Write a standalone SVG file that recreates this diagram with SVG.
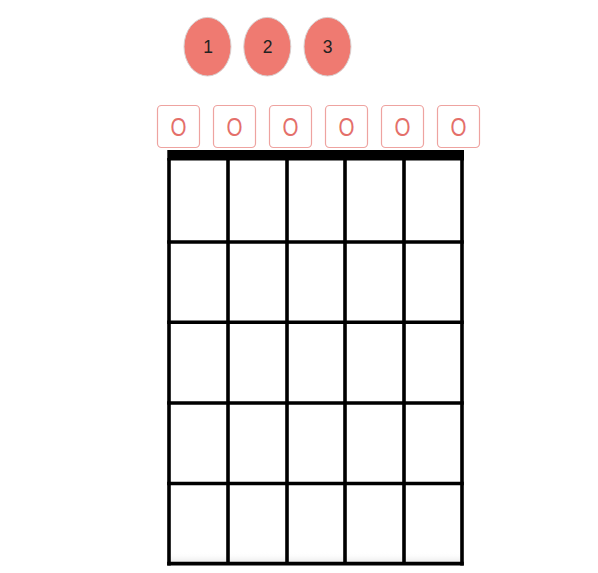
<svg xmlns="http://www.w3.org/2000/svg" width="598" height="573" viewBox="0 0 598 573">
<style>
.finger{fill:#ef7a71;stroke:#d8d0d0;stroke-width:1}
.num{font-family:"Liberation Sans",Arial,sans-serif;font-size:17.5px;fill:#222;text-anchor:middle}
.box{fill:#fff;stroke:#eea3a0;stroke-width:1.2}
.open{font-family:"Liberation Sans",Arial,sans-serif;font-size:26px;fill:#e46f6a;text-anchor:middle}
.line{stroke:#000;stroke-width:3.6;fill:none}
</style>
<defs>
<linearGradient id="shade" x1="0" y1="0" x2="0" y2="1">
<stop offset="0" stop-color="#fff" stop-opacity="0"/>
<stop offset="1" stop-color="#e8e8e8"/>
</linearGradient>
</defs>
<rect width="598" height="573" fill="#fff"/>
<g id="finger1"><ellipse class="finger" cx="207.5" cy="46.7" rx="23.5" ry="29.3"/><text class="num" x="208" y="53.3">1</text></g>
<g id="finger2"><ellipse class="finger" cx="267.3" cy="46.7" rx="23.5" ry="29.3"/><text class="num" x="267.5" y="53.3">2</text></g>
<g id="finger3"><ellipse class="finger" cx="327.5" cy="46.7" rx="23.5" ry="29.3"/><text class="num" x="327.5" y="53.3">3</text></g>
<g id="open1"><rect class="box" x="157.5" y="105.5" width="42" height="42" rx="4"/><text class="open" x="178.5" y="136" textLength="16" lengthAdjust="spacingAndGlyphs">O</text></g>
<g id="open2"><rect class="box" x="213.5" y="105.5" width="42" height="42" rx="4"/><text class="open" x="234.5" y="136" textLength="16" lengthAdjust="spacingAndGlyphs">O</text></g>
<g id="open3"><rect class="box" x="269.5" y="105.5" width="42" height="42" rx="4"/><text class="open" x="290.5" y="136" textLength="16" lengthAdjust="spacingAndGlyphs">O</text></g>
<g id="open4"><rect class="box" x="325.5" y="105.5" width="42" height="42" rx="4"/><text class="open" x="346.5" y="136" textLength="16" lengthAdjust="spacingAndGlyphs">O</text></g>
<g id="open5"><rect class="box" x="381.5" y="105.5" width="42" height="42" rx="4"/><text class="open" x="402.5" y="136" textLength="16" lengthAdjust="spacingAndGlyphs">O</text></g>
<g id="open6"><rect class="box" x="437.5" y="105.5" width="42" height="42" rx="4"/><text class="open" x="458.5" y="136" textLength="16" lengthAdjust="spacingAndGlyphs">O</text></g>
<g id="fretboard">
<rect x="169" y="552" width="293" height="11" fill="url(#shade)"/>
<rect x="167.3" y="150" width="296.7" height="10.5" fill="#000"/>
<path class="line" d="M169 158V565.5M228 158V563.5M287 158V563.5M345 158V563.5M404 158V563.5M462 158V565.5"/>
<path class="line" d="M167.2 242H463.8M167.2 322.2H463.8M167.2 403H463.8M167.2 483.5H463.8M167.2 563.6H463.8"/>
</g>
</svg>
